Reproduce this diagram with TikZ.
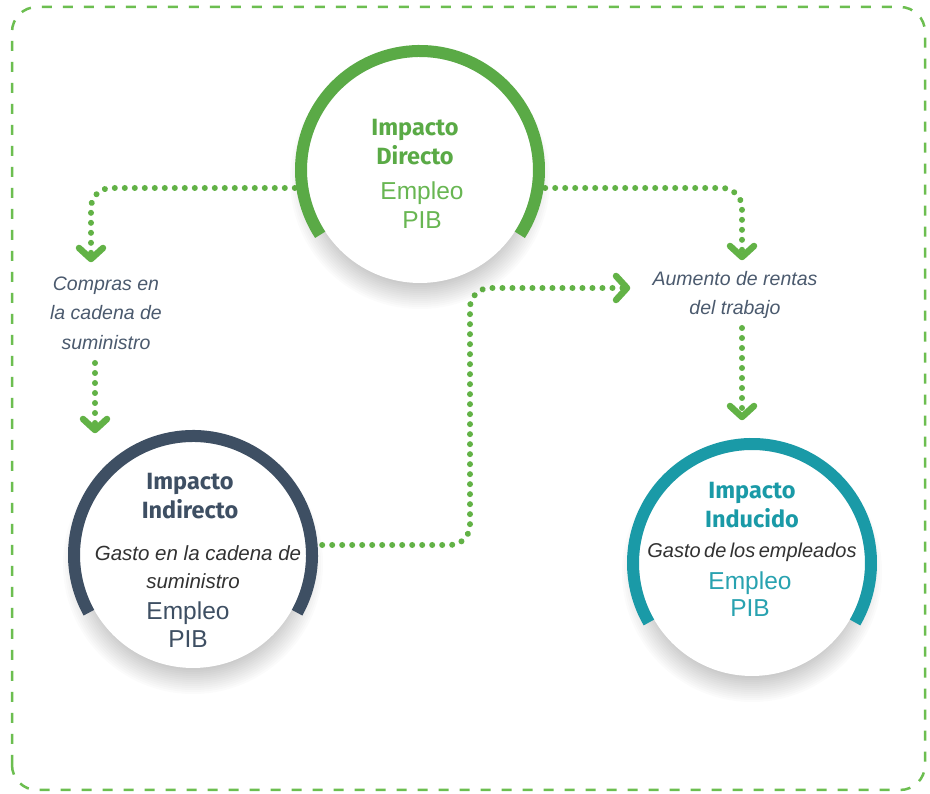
\documentclass[tikz,border=0pt]{standalone}
\usepackage{fontspec}
\setmainfont{Liberation Sans}
\newfontfamily\headfont{Fira Sans}
\usetikzlibrary{arrows.meta}
\definecolor{dgreen}{RGB}{90,170,70}
\definecolor{lgreen}{RGB}{104,182,82}
\definecolor{dotgreen}{RGB}{98,178,70}
\definecolor{bordgreen}{RGB}{108,190,80}
\definecolor{slate}{RGB}{62,79,99}
\definecolor{teal}{RGB}{26,154,167}
\definecolor{lteal}{RGB}{40,162,176}
\definecolor{lblgray}{RGB}{75,90,110}
\definecolor{itgray}{RGB}{50,50,50}
\newcommand{\tightsp}{\spaceskip=3.4pt plus 1pt\relax}
\begin{document}
\begin{tikzpicture}[x=1pt,y=1pt,
  outer/.style={circle,minimum size=250pt,inner sep=0pt,draw=none},
  flow/.style={draw=dotgreen,line width=6pt,dash pattern=on 0.01pt off 9.99pt,line cap=round,rounded corners=20pt},
  chev/.style={draw=dotgreen,line width=6.5pt,line cap=round,line join=round},
  head/.style={font=\headfont\bfseries\fontsize{23.5}{27}\selectfont,inner sep=0pt,text height=16pt,text depth=0pt},
  big/.style={font=\fontsize{24.5}{29}\selectfont,inner sep=0pt,text height=17.5pt,text depth=0pt},
  itin/.style={font=\itshape\fontsize{20.5}{25}\selectfont,text=itgray,inner sep=0pt},
  lbl/.style={font=\itshape\fontsize{19.5}{29.5}\selectfont,text=lblgray,align=center,inner sep=0pt},
  ring/.style={line width=12pt},
  border/.style={draw=bordgreen,line width=2.5pt,dash pattern=on 10pt off 11pt,rounded corners=25pt}
]
\useasboundingbox (0,0) rectangle (930,794);
\fill[white] (0,0) rectangle (930,794);
\draw[border] (12,4) rectangle (925,787);

% circle placeholders
\node[outer] (D) at (420,624) {};
\node[outer] (I) at (193,239) {};
\node[outer] (N) at (752,231) {};

% labels
\node[lbl] (C) at (106,481) {Compras en\\la cadena de\\suministro};
\node[lbl] (A) at (735,499) {Aumento de rentas\\del trabajo};

% connector end points
\coordinate (c1) at (91,535);
\coordinate (c2s) at (95,431);
\coordinate (c2) at (95,364);
\coordinate (c3) at (742,537);
\coordinate (c4s) at (742,466);
\coordinate (c4) at (742,377);
\coordinate (c5) at (627,506);

% connectors
\draw[flow] ([yshift=-18pt]D.west) -| (c1);
\draw[chev] ([shift={(-12,11)}]c1) -- (c1) -- ([shift={(12,11)}]c1);
\draw[flow] (c2s) -- (c2);
\draw[chev] ([shift={(-12,11)}]c2) -- (c2) -- ([shift={(12,11)}]c2);
\draw[flow] ([yshift=-18pt]D.east) -| (c3);
\draw[chev] ([shift={(-12,11)}]c3) -- (c3) -- ([shift={(12,11)}]c3);
\draw[flow] (c4s) -- (c4);
\draw[chev] ([shift={(-12,11)}]c4) -- (c4) -- ([shift={(12,11)}]c4);
\draw[flow] ([xshift=4pt,yshift=10pt]I.east) -- (470,249) -- (470,506) -- (c5);
\draw[chev] ([shift={(-11,12)}]c5) -- (c5) -- ([shift={(-11,-12)}]c5);

% shadows and white discs
\foreach \n in {D,I,N}{
  \foreach \r in {104,106,...,130}{
    \fill[black,opacity=0.014] ([yshift=-9pt]\n.center) circle (\r);
  }
  \fill[white] (\n.center) circle (113);
}

% rings
\draw[ring,dgreen] ([shift={(-33:119)}]D.center) arc[start angle=-33,end angle=213,radius=119];
\draw[ring,slate] ([shift={(-29:119)}]I.center) arc[start angle=-29,end angle=209,radius=119];
\draw[ring,teal] ([shift={(-30:119)}]N.center) arc[start angle=-30,end angle=210,radius=119];

% texts: direct
\node[head,text=dgreen] (D1) at (415,666) {Impacto};
\node[head,text=dgreen] (D2) at (415,637) {Directo};
\node[big,text=lgreen] (D3) at (422,603) {Empleo};
\node[big,text=lgreen] (D4) at (422,574) {PIB};

% texts: indirect
\node[head,text=slate] (I1) at (190,312) {Impacto};
\node[head,text=slate] (I2) at (190,283) {Indirecto};
\node[itin] (I3) at (198,241) {Gasto en la cadena de};
\node[itin] (I4) at (193,213) {suministro};
\node[big,text=slate] (I5) at (188,183) {Empleo};
\node[big,text=slate] (I6) at (188,155) {PIB};

% texts: induced
\node[head,text=teal] (N1) at (752,303) {Impacto};
\node[head,text=teal] (N2) at (752,274) {Inducido};
\node[itin,font=\itshape\fontsize{20}{25}\selectfont] (N3) at (752,242) {\tightsp Gasto de los empleados};
\node[big,text=lteal] (N4) at (750,213) {Empleo};
\node[big,text=lteal] (N5) at (750,186) {PIB};
\end{tikzpicture}
\end{document}
